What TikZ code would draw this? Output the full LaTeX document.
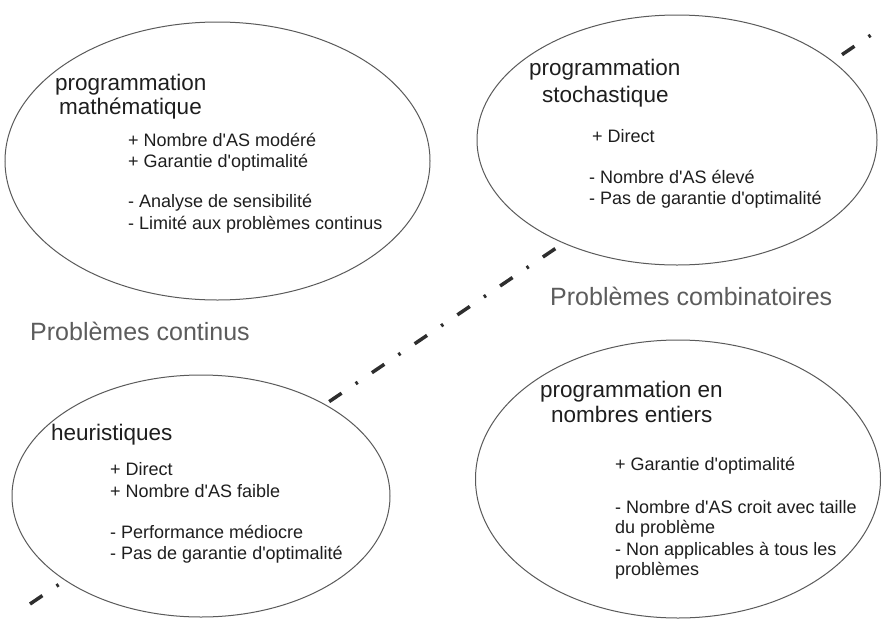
\documentclass[tikz,border=0pt]{standalone}
\usepackage{fontspec}
\setmainfont{Liberation Sans}
\usetikzlibrary{shapes.geometric}
\definecolor{edge}{HTML}{5A5A5A}
\definecolor{ink}{HTML}{1E1E1E}
\definecolor{region}{HTML}{5C5C5C}
\definecolor{sep}{HTML}{2E2E2E}
\newcommand{\apos}{\textquotesingle}
\tikzset{
  oval/.style={ellipse, draw=edge, line width=1pt, fill=white, inner sep=0pt},
  ttl/.style={anchor=base west, inner sep=0pt, text=ink, font=\fontsize{22.5}{27}\selectfont},
  item/.style={anchor=base west, inner sep=0pt, text=ink, font=\fontsize{18}{22}\selectfont},
  zone/.style={anchor=base west, inner sep=0pt, text=region, font=\fontsize{25}{30}\selectfont},
  sepline/.style={draw=sep, line width=3.5pt, dash pattern=on 15pt off 17pt on 2.5pt off 17.1pt}
}
\begin{document}
\begin{tikzpicture}[x=1pt,y=-1pt]
\useasboundingbox (0,0) rectangle (881,619);
\fill[white] (0,0) rectangle (881,619);
% separator
\coordinate (s1) at (30,604);
\coordinate (s2) at (874,33);
\draw[sepline] (s1) -- (s2);
% ellipses
\node[oval, minimum width=425pt, minimum height=278pt] (e1) at (217.5,161) {};
\node[oval, minimum width=400pt, minimum height=250pt] (e2) at (677,140) {};
\node[oval, minimum width=378pt, minimum height=242pt] (e3) at (201,496) {};
\node[oval, minimum width=405pt, minimum height=278pt] (e4) at (678,479) {};
% ellipse 1
\node[ttl] (a1) at (55,90) {programmation};
\node[ttl] (a2) at (59,114) {mathématique};
\node[item] (a3) at (128,146) {+ Nombre d\apos AS modéré};
\node[item] (a4) at (128,167) {+ Garantie d\apos optimalité};
\node[item] (a5) at (128,207) {- Analyse de sensibilité};
\node[item] (a6) at (128,229) {- Limité aux problèmes continus};
% ellipse 2
\node[ttl] (b1) at (529,75) {programmation};
\node[ttl] (b2) at (542,102) {stochastique};
\node[item] (b3) at (592,142) {+ Direct};
\node[item] (b4) at (589,183) {- Nombre d\apos AS élevé};
\node[item] (b5) at (589,204) {- Pas de garantie d\apos optimalité};
% ellipse 3
\node[ttl] (c1) at (51,440) {heuristiques};
\node[item] (c2) at (110,475) {+ Direct};
\node[item] (c3) at (110,497) {+ Nombre d\apos AS faible};
\node[item] (c4) at (110,538) {- Performance médiocre};
\node[item] (c5) at (110,559) {- Pas de garantie d\apos optimalité};
% ellipse 4
\node[ttl] (d1) at (540,397) {programmation en};
\node[ttl] (d2) at (551,422) {nombres entiers};
\node[item] (d3) at (615,470) {+ Garantie d\apos optimalité};
\node[item] (d4) at (615,513) {- Nombre d\apos AS croit avec taille};
\node[item] (d5) at (615,533) {du problème};
\node[item] (d6) at (615,555) {- Non applicables à tous les};
\node[item] (d7) at (615,575) {problèmes};
% region labels
\node[zone] (z1) at (30,340) {Problèmes continus};
\node[zone] (z2) at (550,305) {Problèmes combinatoires};
\end{tikzpicture}
\end{document}
